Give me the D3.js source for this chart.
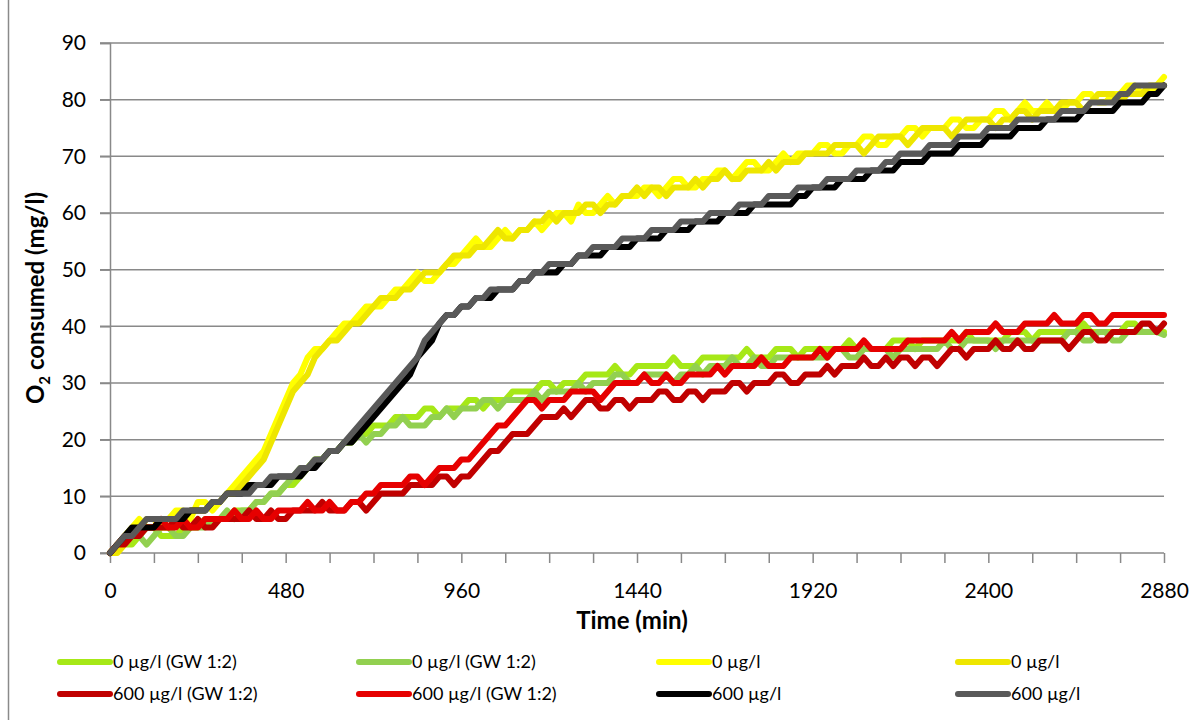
<!DOCTYPE html>
<html><head><meta charset="utf-8">
<script src="https://cdn.jsdelivr.net/npm/d3@7"></script>
<style>
html,body{margin:0;padding:0;background:#fff;}
svg{display:block;font-family:Lato,"Open Sans",sans-serif;}
</style></head>
<body>
<svg id="c" width="1204" height="720"></svg>
<script>
// Time axis (min), one reading every 20 minutes
const times = d3.range(0, 2881, 20);
const xTicks = [0, 480, 960, 1440, 1920, 2400, 2880];
const yTicks = [0, 10, 20, 30, 40, 50, 60, 70, 80, 90];

const seriesNames = ["0 µg/l (GW 1:2)", "0 µg/l (GW 1:2)", "0 µg/l", "0 µg/l",
                     "600 µg/l (GW 1:2)", "600 µg/l (GW 1:2)", "600 µg/l", "600 µg/l"];
const seriesColors = ["#A6E817", "#92D050", "#FFFF00", "#EEE600",
                      "#C00000", "#E60000", "#000000", "#595959"];

const gw0a = [
  0,1.5, 1.5,1.5, 3,4.5, 4.5,3, 3,3, 4.5,4.5, 4.5,6, 6,6,
  6,7.5, 7.5,7.5, 9,9, 10.5,10.5, 12,12, 13.5,15, 16.5,16.5, 18,18,
  19.5,19.5, 21,21, 22.5,22.5, 22.5,24, 24,24, 24,25.5, 25.5,24, 25.5,25.5,
  25.5,27, 27,25.5, 27,27, 27,28.5, 28.5,28.5, 28.5,30, 30,28.5, 30,30,
  30,31.5, 31.5,31.5, 31.5,33, 31.5,31.5, 33,33, 33,33, 33,34.5, 33,33,
  33,34.5, 34.5,34.5, 34.5,34.5, 34.5,36, 34.5,34.5, 34.5,36, 36,36, 34.5,36,
  36,36, 36,36, 36,37.5, 36,36, 36,36, 36,37.5, 37.5,37.5, 36,37.5,
  37.5,37.5, 37.5,37.5, 37.5,39, 37.5,37.5, 37.5,37.5, 37.5,39, 39,39, 37.5,39,
  39,39, 39,39, 39,40.5, 39,39, 39,39, 39,40.5, 40.5,39, 39,39,
  39];
const gw0b = [
  0,1.5, 1.5,3, 3,1.5, 3,4.5, 4.5,3, 3,4.5, 4.5,4.5, 6,6,
  7.5,6, 7.5,7.5, 9,9, 10.5,10.5, 12,13.5, 15,15, 16.5,16.5, 18,18,
  19.5,19.5, 21,19.5, 21,21, 22.5,22.5, 24,22.5, 22.5,22.5, 24,24, 25.5,24,
  25.5,25.5, 25.5,27, 27,25.5, 27,27, 27,27, 28.5,27, 28.5,28.5, 28.5,28.5,
  30,28.5, 30,30, 30,31.5, 31.5,30, 30,31.5, 31.5,31.5, 31.5,30, 31.5,31.5,
  33,31.5, 33,33, 33,34.5, 33,33, 34.5,33, 33,34.5, 34.5,34.5, 34.5,34.5,
  34.5,34.5, 34.5,36, 36,34.5, 34.5,36, 36,36, 36,34.5, 36,36, 36,36,
  36,36, 37.5,36, 36,37.5, 37.5,37.5, 37.5,36, 37.5,37.5, 37.5,37.5, 37.5,37.5,
  37.5,37.5, 37.5,39, 39,37.5, 37.5,39, 39,37.5, 37.5,39, 39,39, 39,39,
  38.5];
const c0a = [
  0,1.5, 3,4.5, 6,4.5, 4.5,6, 6,7.5, 7.5,6, 9,9, 7.5,9,
  10.5,12, 13.5,15, 16.5,18, 21,24, 27,30, 31.5,34.5, 36,36, 37.5,39,
  40.5,40.5, 42,43.5, 43.5,43.5, 45,46.5, 46.5,48, 49.5,48, 48,49.5, 51,51,
  52.5,54, 55.5,54, 54,55.5, 57,55.5, 57,57, 58.5,57, 58.5,60, 60,58.5,
  61.5,60, 60,61.5, 63,61.5, 63,63, 63,64.5, 64.5,63, 64.5,66, 66,64.5,
  64.5,66, 66,67.5, 67.5,66, 67.5,69, 69,67.5, 67.5,69, 70.5,69, 70.5,70.5,
  70.5,72, 72,70.5, 70.5,72, 72,73.5, 73.5,72, 72,73.5, 73.5,75, 75,73.5,
  75,75, 75,76.5, 76.5,75, 75,76.5, 76.5,78, 78,76.5, 78,79.5, 78,78,
  79.5,78, 78,79.5, 79.5,81, 81,79.5, 79.5,81, 81,82.5, 82.5,81, 81,82.5,
  84];
const c0b = [
  0,0, 1.5,3, 4.5,6, 6,4.5, 4.5,6, 6,7.5, 7.5,7.5, 9,9,
  10.5,10.5, 12,13.5, 15,16.5, 19.5,22.5, 25.5,28.5, 30,31.5, 34.5,36, 37.5,37.5,
  39,40.5, 40.5,42, 43.5,45, 45,45, 46.5,46.5, 48,49.5, 49.5,49.5, 51,52.5,
  52.5,52.5, 54,54, 55.5,57, 55.5,55.5, 57,57, 58.5,58.5, 60,58.5, 60,60,
  60,61.5, 61.5,60, 61.5,61.5, 63,63, 64.5,63, 64.5,64.5, 63,64.5, 64.5,64.5,
  66,64.5, 66,66, 67.5,66, 66,67.5, 67.5,67.5, 69,67.5, 69,69, 69,70.5,
  70.5,70.5, 70.5,72, 72,72, 72,70.5, 72,73.5, 73.5,73.5, 73.5,72, 73.5,75,
  75,75, 75,73.5, 75,76.5, 76.5,76.5, 76.5,75, 76.5,76.5, 78,78, 76.5,78,
  78,78, 79.5,79.5, 79.5,78, 79.5,81, 81,81, 79.5,81, 81,81, 82.5,82.5,
  82.5];
const gw600a = [
  0,1.5, 1.5,3, 3,4.5, 4.5,4.5, 4.5,6, 4.5,4.5, 6,4.5, 4.5,6,
  6,6, 6,7.5, 6,6, 7.5,6, 6,7.5, 7.5,7.5, 7.5,9, 7.5,7.5,
  7.5,9, 9,7.5, 9,10.5, 10.5,10.5, 10.5,12, 12,12, 12,13.5, 13.5,12,
  13.5,13.5, 15,16.5, 18,18, 19.5,21, 21,21, 22.5,24, 24,24, 25.5,24,
  25.5,27, 27,25.5, 25.5,27, 27,25.5, 27,27, 27,28.5, 28.5,27, 27,28.5,
  28.5,27, 28.5,28.5, 28.5,30, 30,28.5, 30,30, 30,31.5, 31.5,30, 30,31.5,
  31.5,31.5, 33,31.5, 33,33, 33,34.5, 33,33, 34.5,33, 34.5,34.5, 33,34.5,
  34.5,33, 34.5,36, 36,34.5, 36,36, 36,37.5, 36,36, 37.5,36, 36,37.5,
  37.5,37.5, 37.5,36, 37.5,39, 39,37.5, 37.5,39, 39,39, 39,40.5, 40.5,39,
  40.5];
const gw600b = [
  0,1.5, 3,3, 4.5,4.5, 4.5,6, 4.5,4.5, 6,4.5, 4.5,6, 6,6,
  6,7.5, 6,6, 7.5,6, 6,7.5, 7.5,7.5, 7.5,9, 7.5,7.5, 9,7.5,
  7.5,9, 9,10.5, 10.5,12, 12,12, 12,13.5, 13.5,12, 13.5,15, 15,15,
  16.5,16.5, 18,19.5, 21,22.5, 22.5,24, 25.5,27, 27,25.5, 27,27, 27,28.5,
  28.5,28.5, 28.5,27, 28.5,30, 30,30, 30,31.5, 30,30, 31.5,30, 30,31.5,
  31.5,31.5, 31.5,33, 31.5,33, 33,33, 33,34.5, 33,33, 33,34.5, 34.5,34.5,
  34.5,36, 34.5,36, 36,36, 36,37.5, 36,36, 36,36, 36,37.5, 37.5,37.5,
  37.5,37.5, 37.5,39, 37.5,39, 39,39, 39,40.5, 39,39, 39,40.5, 40.5,40.5,
  40.5,42, 40.5,40.5, 40.5,42, 42,40.5, 40.5,42, 42,42, 42,42, 42,42,
  42];
const c600a = [
  0,1.5, 3,4.5, 4.5,4.5, 4.5,6, 6,6, 6,7.5, 7.5,7.5, 9,9,
  10.5,10.5, 10.5,12, 12,12, 12,13.5, 13.5,13.5, 13.5,15, 15,16.5, 18,18,
  19.5,19.5, 21,22.5, 24,25.5, 27,28.5, 30,31.5, 34.5,36, 37.5,40.5, 42,42,
  43.5,43.5, 45,45, 45,46.5, 46.5,46.5, 48,48, 49.5,49.5, 49.5,49.5, 51,51,
  52.5,52.5, 52.5,52.5, 54,54, 54,54, 55.5,55.5, 55.5,55.5, 57,57, 57,57,
  58.5,58.5, 58.5,58.5, 60,60, 60,60, 61.5,61.5, 61.5,61.5, 61.5,61.5, 63,63,
  64.5,64.5, 64.5,64.5, 66,66, 66,66, 67.5,67.5, 67.5,67.5, 69,69, 69,69,
  70.5,70.5, 70.5,70.5, 72,72, 72,72, 73.5,73.5, 73.5,73.5, 75,75, 75,75,
  76.5,76.5, 76.5,76.5, 76.5,78, 78,78, 78,78, 79.5,79.5, 79.5,79.5, 81,81,
  82.5];
const c600b = [
  0,1.5, 3,3, 4.5,6, 6,6, 6,6, 7.5,7.5, 7.5,7.5, 9,9,
  10.5,10.5, 10.5,10.5, 12,12, 13.5,13.5, 13.5,13.5, 15,15, 16.5,16.5, 18,18,
  19.5,21, 22.5,24, 25.5,27, 28.5,30, 31.5,33, 34.5,37.5, 39,40.5, 42,42,
  43.5,43.5, 45,45, 46.5,46.5, 46.5,46.5, 48,48, 49.5,49.5, 51,51, 51,51,
  52.5,52.5, 54,54, 54,54, 55.5,55.5, 55.5,55.5, 57,57, 57,57, 58.5,58.5,
  58.5,58.5, 60,60, 60,60, 61.5,61.5, 61.5,61.5, 63,63, 63,63, 64.5,64.5,
  64.5,64.5, 66,66, 66,66, 67.5,67.5, 67.5,67.5, 69,69, 70.5,70.5, 70.5,70.5,
  72,72, 72,72, 73.5,73.5, 73.5,73.5, 75,75, 75,75, 76.5,76.5, 76.5,76.5,
  76.5,76.5, 78,78, 78,78, 79.5,79.5, 79.5,79.5, 81,81, 82.5,82.5, 82.5,82.5,
  82.5];

const seriesValues = [gw0a, gw0b, c0a, c0b, gw600a, gw600b, c600a, c600b];

const svg = d3.select("#c");
const W = 1204, H = 720;
const x = d3.scaleLinear().domain([0, 2880]).range([110, 1164]);
const y = d3.scaleLinear().domain([0, 90]).range([553, 43]);
const gridColor = "#898989";

// outer frame line
svg.append("line").attr("x1", 8.5).attr("x2", 8.5).attr("y1", 0).attr("y2", H)
  .attr("stroke", "#8a8a8a").attr("stroke-width", 1.5);

// gridlines
svg.append("g").selectAll("line").data(yTicks.slice(1)).join("line")
  .attr("x1", 100).attr("x2", x(2880))
  .attr("y1", d => y(d)).attr("y2", d => y(d))
  .attr("stroke", gridColor).attr("stroke-width", 1.5);

// y axis
const yAxis = d3.axisLeft(y).tickValues(yTicks).tickSize(10).tickPadding(14).tickFormat(d3.format("d"));
const gy = svg.append("g").attr("transform", "translate(110,0)").call(yAxis);
gy.select(".domain").attr("stroke", gridColor).attr("stroke-width", 1.5);
gy.selectAll(".tick line").attr("stroke", gridColor).attr("stroke-width", 1.5);
gy.selectAll(".tick text").attr("font-size", 21).attr("fill", "#000").attr("font-family", "Lato, sans-serif");

// x axis: minor ticks every 120, labels every 480
const xAxis = d3.axisBottom(x).tickValues(d3.range(0, 2881, 120)).tickSize(10).tickPadding(20)
  .tickFormat(d => xTicks.includes(d) ? d : "");
const gx = svg.append("g").attr("transform", "translate(0,553)").call(xAxis);
gx.select(".domain").attr("stroke", gridColor).attr("stroke-width", 1.5).attr("d", "M100,0H" + x(2880));
gx.selectAll(".tick line").attr("stroke", gridColor).attr("stroke-width", 1.5);
gx.selectAll(".tick text").attr("font-size", 21).attr("fill", "#000").attr("font-family", "Lato, sans-serif");

// axis titles
svg.append("text").attr("x", 632).attr("y", 629).attr("text-anchor", "middle")
  .attr("font-size", 24).attr("font-weight", "bold").text("Time (min)");
const yt = svg.append("text").attr("transform", "translate(44,298) rotate(-90)")
  .attr("text-anchor", "middle").attr("font-size", 24).attr("font-weight", "bold");
yt.append("tspan").text("O");
yt.append("tspan").attr("font-size", 15).attr("dy", 6).text("2");
yt.append("tspan").attr("dy", -6).text(" consumed (mg/l)");

// lines
const line = d3.line().x((d, i) => x(times[i])).y(d => y(d));
svg.append("g").selectAll("path").data(seriesValues).join("path")
  .attr("d", d => line(d)).attr("fill", "none")
  .attr("stroke", (d, i) => seriesColors[i]).attr("stroke-width", 6)
  .attr("stroke-linejoin", "round").attr("stroke-linecap", "round");

// legend
const legX = [115, 414, 714, 1013];
const legY = [662, 694];
const leg = svg.append("g").selectAll("g").data(seriesNames).join("g")
  .attr("transform", (d, i) => `translate(${legX[i % 4]},${legY[Math.floor(i / 4)]})`);
leg.append("line").attr("x1", -55).attr("x2", -5).attr("y1", 0).attr("y2", 0)
  .attr("stroke", (d, i) => seriesColors[i]).attr("stroke-width", 6).attr("stroke-linecap", "round");
leg.append("text").attr("x", -2).attr("dy", "0.35em").attr("font-size", 18).text(d => d);
</script>
</body></html>
